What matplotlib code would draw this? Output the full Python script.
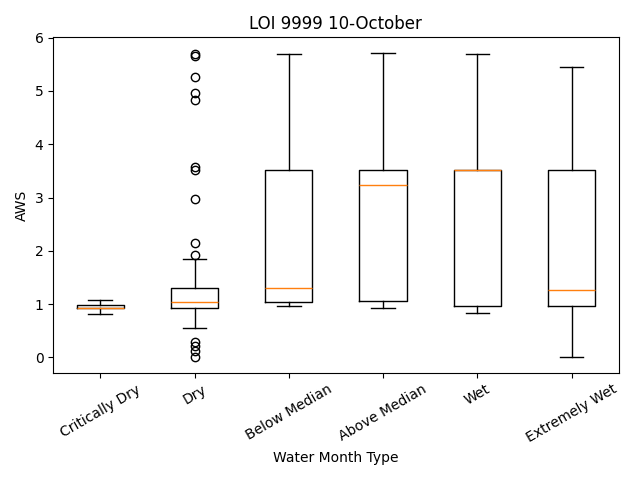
import matplotlib
matplotlib.use('Agg')
import matplotlib.pyplot as plt

# Estadisticas de cada caja
categorias = ['Critically Dry', 'Dry', 'Below Median', 'Above Median', 'Wet', 'Extremely Wet']
q1 = [0.92, 0.92, 1.03, 1.05, 0.97, 0.96]
mediana = [0.93, 1.03, 1.31, 3.23, 3.51, 1.26]
q3 = [0.99, 1.30, 3.51, 3.51, 3.51, 3.51]
bigote_bajo = [0.82, 0.56, 0.96, 0.92, 0.83, 0.0]
bigote_alto = [1.07, 1.84, 5.69, 5.72, 5.70, 5.45]
atipicos = [
    [],
    [0.0, 0.12, 0.22, 0.28, 1.92, 2.15, 2.98, 3.52, 3.58, 4.83, 4.97, 5.27, 5.66, 5.70],
    [], [], [], [],
]

stats = []
for i, nombre in enumerate(categorias):
    stats.append({
        'label': nombre,
        'q1': q1[i],
        'med': mediana[i],
        'q3': q3[i],
        'whislo': bigote_bajo[i],
        'whishi': bigote_alto[i],
        'fliers': atipicos[i],
    })

fig, ax = plt.subplots(figsize=(6.4, 4.8))
ax.bxp(stats)
ax.set_title('LOI 9999 10-October')
ax.set_xlabel('Water Month Type')
ax.set_ylabel('AWS')
plt.xticks(rotation=30)
plt.tight_layout()
plt.savefig('out.png', dpi=100)
